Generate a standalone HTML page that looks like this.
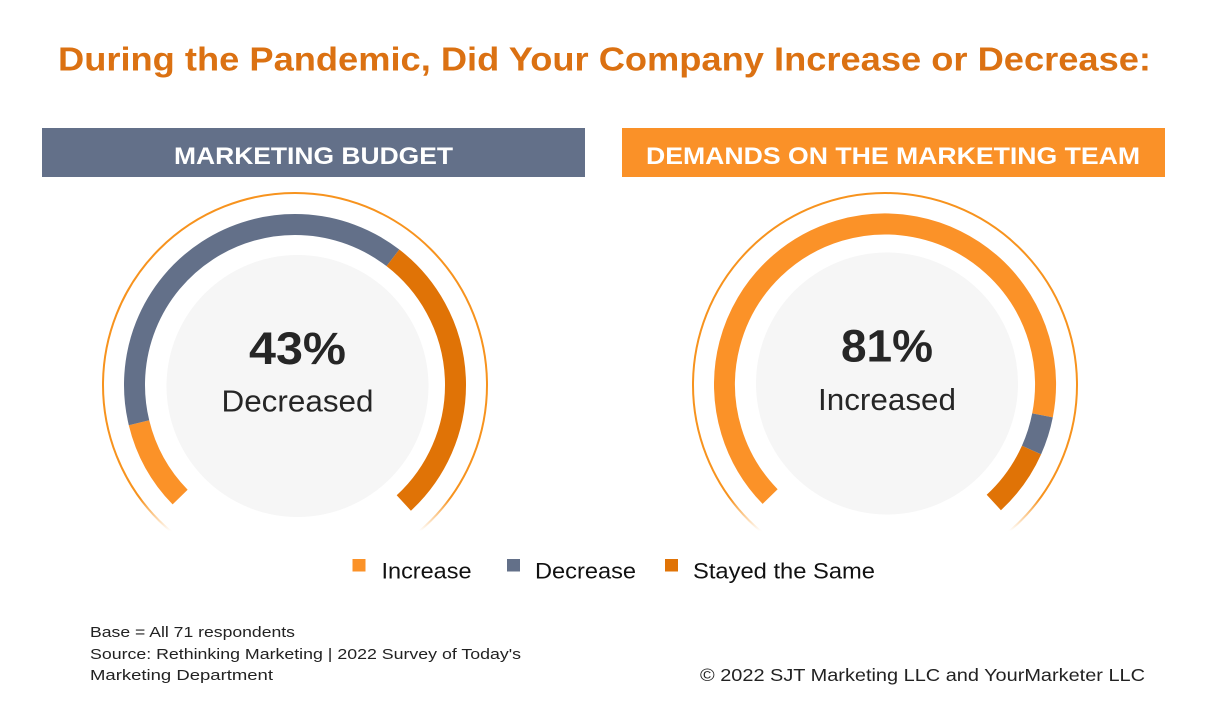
<!DOCTYPE html>
<html>
<head>
<meta charset="utf-8">
<style>
  html, body { margin: 0; padding: 0; background: #ffffff; }
  body { width: 1209px; height: 720px; overflow: hidden; }
  svg { display: block; }
  text { font-family: "Liberation Sans", Arial, sans-serif; }
</style>
</head>
<body>
<svg width="1209" height="720" viewBox="0 0 1209 720" xmlns="http://www.w3.org/2000/svg">
  <defs>
    <linearGradient id="fade" gradientUnits="userSpaceOnUse" x1="0" y1="498" x2="0" y2="531">
      <stop offset="0" stop-color="#fff"/>
      <stop offset="1" stop-color="#000"/>
    </linearGradient>
    <mask id="m" maskUnits="userSpaceOnUse" x="0" y="0" width="1209" height="720">
      <rect x="0" y="0" width="1209" height="720" fill="url(#fade)"/>
    </mask>
  </defs>

  <rect width="1209" height="720" fill="#ffffff"/>

  <!-- Title -->
  <text x="58" y="70.5" font-size="33" font-weight="bold" fill="#DB7112" textLength="1093" lengthAdjust="spacingAndGlyphs">During the Pandemic, Did Your Company Increase or Decrease:</text>

  <!-- Header bars -->
  <rect x="42" y="128" width="543" height="49" fill="#637089"/>
  <text x="174" y="164" font-size="24" font-weight="bold" fill="#ffffff" textLength="279" lengthAdjust="spacingAndGlyphs">MARKETING BUDGET</text>

  <rect x="622" y="128" width="543" height="49" fill="#FA9128"/>
  <text x="646" y="164" font-size="24" font-weight="bold" fill="#ffffff" textLength="494" lengthAdjust="spacingAndGlyphs">DEMANDS ON THE MARKETING TEAM</text>

  <!-- LEFT GAUGE -->
  <circle cx="295" cy="385" r="192" fill="none" stroke="#F7931E" stroke-width="2" mask="url(#m)"/>
  <circle cx="297.5" cy="386" r="131" fill="#F6F6F6"/>
  <path d="M180.13 497.09 A160.5 160.5 0 0 1 139.0 422.74" fill="none" stroke="#FB9228" stroke-width="21"/>
  <path d="M139.0 422.74 A160.5 160.5 0 0 1 392.92 257.84" fill="none" stroke="#637089" stroke-width="21"/>
  <path d="M392.92 257.84 A160.5 160.5 0 0 1 403.81 502.99" fill="none" stroke="#E07306" stroke-width="21"/>
  <text x="249" y="364" font-size="45" font-weight="bold" fill="#262626" textLength="97" lengthAdjust="spacingAndGlyphs">43%</text>
  <text x="221.5" y="411.5" font-size="31" fill="#262626" textLength="152" lengthAdjust="spacingAndGlyphs">Decreased</text>

  <!-- RIGHT GAUGE -->
  <circle cx="885" cy="385" r="192" fill="none" stroke="#F7931E" stroke-width="2" mask="url(#m)"/>
  <circle cx="887" cy="383.5" r="131" fill="#F6F6F6"/>
  <path d="M770.13 496.59 A160.5 160.5 0 1 1 1042.50 415.40" fill="none" stroke="#FB9228" stroke-width="21"/>
  <path d="M1042.50 415.40 A160.5 160.5 0 0 1 1031.51 450.04" fill="none" stroke="#637089" stroke-width="21"/>
  <path d="M1031.51 450.04 A160.5 160.5 0 0 1 993.81 502.49" fill="none" stroke="#E07306" stroke-width="21"/>
  <text x="841" y="361.7" font-size="45" font-weight="bold" fill="#262626" textLength="92" lengthAdjust="spacingAndGlyphs">81%</text>
  <text x="818" y="410" font-size="31" fill="#262626" textLength="138" lengthAdjust="spacingAndGlyphs">Increased</text>

  <!-- Legend -->
  <rect x="352.5" y="559" width="13" height="12.5" fill="#FB9228"/>
  <text x="381.5" y="578.5" font-size="22" fill="#111111" textLength="90" lengthAdjust="spacingAndGlyphs">Increase</text>
  <rect x="507" y="559" width="13" height="12.5" fill="#637089"/>
  <text x="535" y="578.5" font-size="22" fill="#111111" textLength="101" lengthAdjust="spacingAndGlyphs">Decrease</text>
  <rect x="665" y="559" width="13" height="12.5" fill="#E07306"/>
  <text x="693" y="578.5" font-size="22" fill="#111111" textLength="182" lengthAdjust="spacingAndGlyphs">Stayed the Same</text>

  <!-- Footer left -->
  <text x="90" y="637" font-size="15" fill="#222222" textLength="205" lengthAdjust="spacingAndGlyphs">Base = All 71 respondents</text>
  <text x="90" y="659" font-size="15" fill="#222222" textLength="431" lengthAdjust="spacingAndGlyphs">Source: Rethinking Marketing | 2022 Survey of Today's</text>
  <text x="90" y="680" font-size="15" fill="#222222" textLength="183" lengthAdjust="spacingAndGlyphs">Marketing Department</text>

  <!-- Footer right -->
  <text x="700" y="681" font-size="17.5" fill="#222222" textLength="445" lengthAdjust="spacingAndGlyphs">© 2022 SJT Marketing LLC and YourMarketer LLC</text>
</svg>
</body>
</html>
